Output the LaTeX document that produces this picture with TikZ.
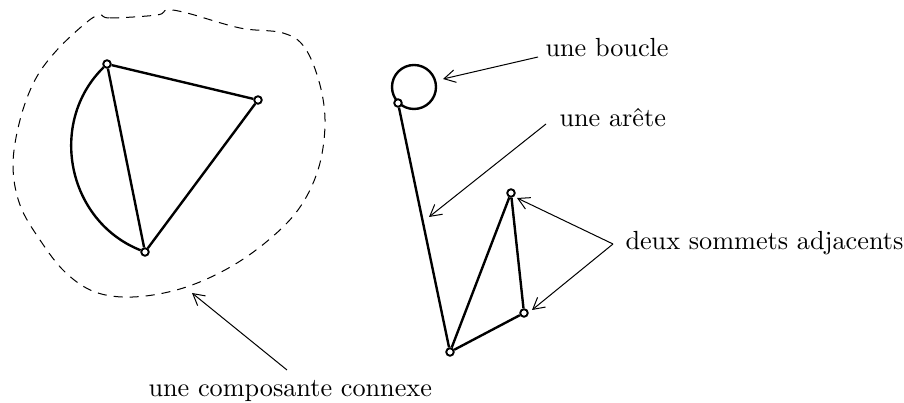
\documentclass[tikz,border=0pt]{standalone}
\usetikzlibrary{arrows.meta}
\begin{document}
\begin{tikzpicture}[x=0.014cm,y=-0.014cm,
  vtx/.style={circle,draw,fill=white,line width=0.75pt,inner sep=0pt,minimum size=3pt},
  edge/.style={line width=0.95pt},
  lbl/.style={anchor=base west,inner sep=0pt,font=\fontsize{10.45}{12.5}\selectfont},
  pointer/.style={line width=0.4pt,-{Straight Barb[length=4.5pt,width=5pt]}},
  blob/.style={line width=0.4pt,dash pattern=on 3.6pt off 2.8pt}]
\useasboundingbox (0,0) rectangle (904,403);
% connected component
\draw[blob] plot[smooth cycle,tension=0.6] coordinates {
 (100,15) (110,18) (157,15) (167,10) (187,13) (240,28) (283,33) (305,48)
 (320,85) (325,125) (318,170) (298,210) (265,243) (225,270) (180,289)
 (133,297) (95,292) (65,272) (40,240) (20,205) (13,165) (20,120) (35,80)
 (57,50) (87,22)};
\node[vtx] (A) at (107,64) {};
\node[vtx] (B) at (258,100) {};
\node[vtx] (C) at (145,252) {};
\draw[edge] (A) -- (B) -- (C) -- (A);
\draw[edge] (A) to[bend right=57,looseness=1.08] (C);
% right graph
\coordinate (lc) at (414,87);
\draw[edge] (lc) circle (22);
\node[vtx] (D) at (398,103) {};
\node[vtx] (E) at (450,352) {};
\node[vtx] (F) at (511,193) {};
\node[vtx] (G) at (524,313) {};
\draw[edge] (D) -- (E) -- (F) -- (G) -- (E);
% labels
\node[lbl] (boucle) at (545,57) {une boucle};
\node[lbl] (arete) at (559,127) {une ar\^ete};
\node[lbl] (adj) at (625,250) {deux sommets adjacents};
\node[lbl] (comp) at (148,397) {une composante connexe};
\coordinate (s1) at (538,57);
\coordinate (t1) at (443,79);
\coordinate (s2) at (546,124);
\coordinate (t2) at (429,217);
\coordinate (s3) at (613,244);
\coordinate (t3a) at (517,198);
\coordinate (t3b) at (532,310);
\coordinate (s4) at (287,370);
\coordinate (t4) at (192,293);
\draw[pointer] (s1) -- (t1);
\draw[pointer] (s2) -- (t2);
\draw[pointer] (s3) -- (t3a);
\draw[pointer] (s3) -- (t3b);
\draw[pointer] (s4) -- (t4);
\end{tikzpicture}
\end{document}
